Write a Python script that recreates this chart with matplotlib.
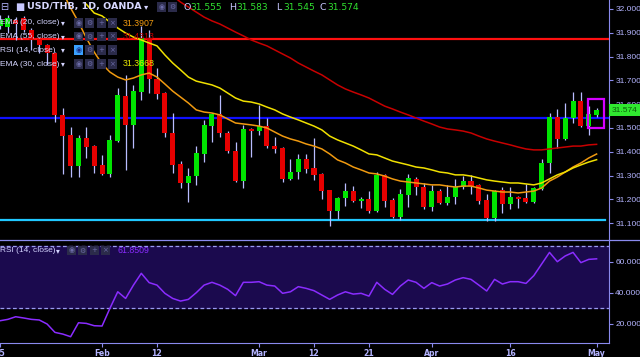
import matplotlib
matplotlib.use("Agg")
import matplotlib.pyplot as plt
from matplotlib.lines import Line2D
from matplotlib.patches import Rectangle
from matplotlib.transforms import blended_transform_factory

W, H = 640, 357

# daily USD/THB bars, 15 Jan 2018 .. 1 May 2018
opens = [31.930, 31.924, 31.955, 31.962, 31.912, 31.874, 31.849, 31.815, 31.555, 31.471,
         31.340, 31.458, 31.424, 31.345, 31.307, 31.445, 31.634, 31.513, 31.651, 31.878,
         31.706, 31.647, 31.479, 31.349, 31.269, 31.298, 31.391, 31.508, 31.559, 31.479,
         31.403, 31.277, 31.496, 31.487, 31.508, 31.424, 31.416, 31.286, 31.315, 31.370,
         31.332, 31.307, 31.239, 31.151, 31.206, 31.235, 31.193, 31.202, 31.151, 31.303,
         31.197, 31.126, 31.218, 31.286, 31.252, 31.168, 31.235, 31.185, 31.210, 31.252,
         31.277, 31.261, 31.197, 31.122, 31.239, 31.181, 31.210, 31.206, 31.189, 31.244,
         31.353, 31.546, 31.454, 31.542, 31.613, 31.508, 31.555]
highs = [31.975, 31.975, 31.965, 31.970, 31.920, 31.880, 31.855, 31.820, 31.584, 31.504,
         31.471, 31.504, 31.429, 31.387, 31.471, 31.668, 31.723, 31.681, 31.930, 31.910,
         31.752, 31.650, 31.563, 31.361, 31.332, 31.424, 31.534, 31.563, 31.639, 31.487,
         31.441, 31.513, 31.500, 31.597, 31.542, 31.462, 31.420, 31.370, 31.391, 31.391,
         31.458, 31.310, 31.240, 31.210, 31.269, 31.256, 31.210, 31.235, 31.315, 31.305,
         31.206, 31.244, 31.307, 31.294, 31.269, 31.261, 31.244, 31.261, 31.286, 31.298,
         31.303, 31.265, 31.223, 31.240, 31.252, 31.252, 31.215, 31.265, 31.252, 31.370,
         31.563, 31.580, 31.605, 31.651, 31.651, 31.592, 31.583]
lows = [31.915, 31.899, 31.870, 31.905, 31.828, 31.815, 31.765, 31.525, 31.307, 31.294,
        31.294, 31.374, 31.311, 31.303, 31.294, 31.440, 31.324, 31.416, 31.618, 31.647,
        31.622, 31.462, 31.311, 31.248, 31.189, 31.261, 31.357, 31.441, 31.462, 31.395,
        31.273, 31.248, 31.378, 31.471, 31.416, 31.395, 31.273, 31.280, 31.286, 31.311,
        31.282, 31.202, 31.088, 31.118, 31.172, 31.189, 31.164, 31.143, 31.145, 31.168,
        31.120, 31.113, 31.168, 31.218, 31.160, 31.151, 31.181, 31.176, 31.181, 31.244,
        31.223, 31.181, 31.109, 31.109, 31.143, 31.160, 31.164, 31.185, 31.185, 31.240,
        31.311, 31.416, 31.450, 31.521, 31.504, 31.471, 31.545]
closes = [31.955, 31.962, 31.935, 31.912, 31.870, 31.849, 31.815, 31.555, 31.466, 31.340,
          31.458, 31.420, 31.340, 31.307, 31.450, 31.639, 31.513, 31.655, 31.878, 31.706,
          31.643, 31.479, 31.345, 31.269, 31.298, 31.395, 31.513, 31.559, 31.479, 31.403,
          31.277, 31.496, 31.487, 31.508, 31.424, 31.412, 31.286, 31.315, 31.370, 31.328,
          31.303, 31.235, 31.151, 31.206, 31.235, 31.193, 31.202, 31.151, 31.303, 31.193,
          31.126, 31.223, 31.290, 31.252, 31.168, 31.235, 31.185, 31.210, 31.252, 31.277,
          31.256, 31.193, 31.122, 31.235, 31.181, 31.210, 31.202, 31.189, 31.248, 31.353,
          31.546, 31.454, 31.542, 31.613, 31.508, 31.559, 31.574]

# EMAs (first value = bar index given by *_start)
ema20_start = 8
ema20 = [32.070, 32.004, 31.945, 31.878, 31.819, 31.769, 31.735, 31.714, 31.702, 31.710,
         31.723, 31.731, 31.714, 31.685, 31.655, 31.630, 31.605, 31.576, 31.567, 31.563,
         31.555, 31.538, 31.521, 31.517, 31.513, 31.508, 31.500, 31.483, 31.466, 31.454,
         31.445, 31.433, 31.424, 31.412, 31.391, 31.366, 31.353, 31.336, 31.324, 31.311,
         31.307, 31.298, 31.286, 31.277, 31.273, 31.269, 31.265, 31.261, 31.261, 31.256,
         31.252, 31.256, 31.256, 31.248, 31.239, 31.235, 31.231, 31.231, 31.227, 31.231,
         31.235, 31.248, 31.277, 31.294, 31.315, 31.336, 31.353, 31.374, 31.3907]
ema30_start = 11
ema30 = [32.020, 31.983, 31.971, 31.945, 31.920, 31.899, 31.882, 31.870, 31.857, 31.845,
         31.807, 31.773, 31.744, 31.714, 31.697, 31.689, 31.681, 31.668, 31.647, 31.626,
         31.613, 31.609, 31.601, 31.588, 31.576, 31.559, 31.546, 31.534, 31.521, 31.508,
         31.492, 31.466, 31.450, 31.437, 31.424, 31.408, 31.391, 31.387, 31.374, 31.361,
         31.353, 31.345, 31.336, 31.332, 31.324, 31.315, 31.311, 31.303, 31.303, 31.298,
         31.290, 31.282, 31.277, 31.273, 31.269, 31.269, 31.265, 31.261, 31.269, 31.286,
         31.303, 31.315, 31.332, 31.345, 31.357, 31.3668]
ema55_start = 22
ema55 = [32.055, 32.029, 32.008, 31.987, 31.966, 31.950, 31.937, 31.920, 31.903, 31.887,
         31.870, 31.857, 31.845, 31.828, 31.811, 31.794, 31.773, 31.756, 31.739, 31.723,
         31.702, 31.681, 31.664, 31.651, 31.639, 31.626, 31.609, 31.592, 31.580, 31.567,
         31.555, 31.542, 31.529, 31.517, 31.504, 31.496, 31.492, 31.487, 31.479, 31.466,
         31.454, 31.445, 31.437, 31.429, 31.420, 31.412, 31.408, 31.408, 31.412, 31.416,
         31.420, 31.424, 31.424, 31.429, 31.4313]
rsi = [21.9, 22.8, 24.5, 23.7, 22.8, 22.4, 19.8, 14.4, 13.3, 11.6,
       20.6, 20.2, 18.7, 18.5, 29.9, 40.6, 36.3, 44.9, 52.5, 46.5,
       44.9, 39.6, 36.3, 34.6, 35.7, 40.0, 44.9, 46.7, 44.9, 42.2,
       38.1, 46.7, 46.7, 47.1, 44.9, 44.3, 39.6, 40.6, 43.9, 42.8,
       41.3, 38.5, 35.7, 38.5, 40.6, 39.1, 39.6, 37.8, 46.7, 42.2,
       38.9, 44.3, 48.2, 46.7, 42.8, 46.5, 44.3, 45.6, 48.2, 49.7,
       48.6, 44.9, 41.1, 48.6, 45.6, 47.1, 47.1, 46.0, 51.0, 58.5,
       66.0, 60.0, 63.7, 66.0, 59.4, 61.5, 61.8509]

resistance = 31.876
pivot = 31.543
support = 31.113

tick_pos = [0, 13, 20, 33, 40, 47, 55, 65, 76]
tick_lab = ["15", "Feb", "12", "Mar", "12", "21", "Apr", "16", "May"]
price_ticks = [31.1, 31.2, 31.3, 31.4, 31.5, 31.6, 31.7, 31.8, 31.9, 32.0]
rsi_ticks = [20, 40, 60]

BG = "black"
AXC = "#8a8aee"
TXT = "#b4b4ff"
LEG = "#d4d4ff"
UP = "#00e400"
DN = "#e60000"
WICK = "#b8bcff"
fam = ["Liberation Sans", "DejaVu Sans"]


def fx(p):
    return p / W


def fy(p):
    return 1 - p / H


fig = plt.figure(figsize=(W / 100, H / 100), dpi=100, facecolor=BG)
ax = fig.add_axes([0, fy(239), fx(609), 239 / H])
rx = fig.add_axes([0, fy(343), fx(609), 103 / H], sharex=ax)

for a in (ax, rx):
    a.set_facecolor(BG)
    for s in ("top", "left", "bottom"):
        a.spines[s].set_visible(False)
    a.spines["right"].set_color(AXC)
    a.yaxis.tick_right()
    a.tick_params(axis="y", colors=AXC, labelcolor=TXT, length=3, width=0.8,
                  labelsize=6, pad=1.5)
rx.spines["bottom"].set_visible(True)
rx.spines["bottom"].set_color(AXC)

n = len(closes)
xs = list(range(n))

# horizontal levels
ax.axhline(resistance, color="#ff1010", lw=1.6, zorder=1)
ax.axhline(pivot, color="#1010ff", lw=1.6, zorder=1)
ax.plot([0, n + 0.05], [support, support], color="#20c8ff", lw=1.6, zorder=1)

# candles
ax.vlines(xs, lows, highs, color=WICK, lw=0.9, zorder=2)
bottoms = [min(o, c) for o, c in zip(opens, closes)]
heights = [max(abs(c - o), 0.006) for o, c in zip(opens, closes)]
cols = [UP if c >= o else DN for o, c in zip(opens, closes)]
ax.bar(xs, heights, 0.64, bottom=bottoms, color=cols, linewidth=0, zorder=3)

# moving averages
ax.plot(range(ema55_start, n), ema55, color="#c80000", lw=1.1, zorder=4)
ax.plot(range(ema20_start, n), ema20, color="#f09a10", lw=1.1, zorder=4)
ax.plot(range(ema30_start, n), ema30, color="#f0e000", lw=1.1, zorder=4)

# highlight box on the last bar
ax.add_patch(Rectangle((n - 1 - 1.13, 31.500), 2.11, 0.122, fill=False,
                       ec="#d400ff", lw=1.6, zorder=5))

ax.set_xlim(0, 609 / 7.85)
ax.set_ylim(31.0336, 32.0378)
ax.set_yticks(price_ticks)
ax.set_yticklabels([f"{v:.3f}" for v in price_ticks], family=fam)
ax.tick_params(axis="x", bottom=False, labelbottom=False)

# last price tag
tr = blended_transform_factory(ax.transAxes, ax.transData)
ax.text(1.004, closes[-1], f"{closes[-1]:.3f}", transform=tr, va="center", ha="left",
        fontsize=6, family=fam, color="#0b5c0b", clip_on=False, zorder=6,
        bbox=dict(boxstyle="square,pad=0.3", fc="#30e830", ec="none"))

# RSI panel
rx.axhspan(30, 70, color="#1b0a4e", zorder=0)
for lv in (30, 70):
    rx.axhline(lv, color="#9a9af0", lw=0.9, ls=(0, (3, 2)), zorder=1)
rx.plot(xs, rsi, color="#8a2cff", lw=1.1, zorder=2)
rx.set_ylim(7.55, 74.0)
rx.set_yticks(rsi_ticks)
rx.set_yticklabels([f"{v:.4f}" for v in rsi_ticks], family=fam)
rx.set_xticks(tick_pos)
rx.set_xticklabels(tick_lab, fontweight="bold")
rx.tick_params(axis="x", colors=AXC, labelcolor=TXT, length=3, width=0.8,
               labelsize=5.6, pad=1.5)

# separator across the full width
fig.add_artist(Line2D([0, 1], [fy(239.5), fy(239.5)], color=AXC, lw=0.9))


# legend header
def t(x, y, s, c=LEG, size=5.8, **kw):
    fig.text(fx(x), fy(y), s, color=c, fontsize=size, va="center", ha="left", **kw)


def icons(x0, y, syms, first=None):
    for k, sym in enumerate(syms):
        x = x0 + k * 11.3
        fc = first if (first and k == 0) else "#2b2b4a"
        fig.add_artist(Rectangle((fx(x), fy(y + 4.5)), fx(9), 9 / H,
                                 transform=fig.transFigure, fc=fc, ec="none"))
        sc = "#1a2a80" if (first and k == 0) else "#6c6ca8"
        fig.text(fx(x + 4.5), fy(y), sym, color=sc, fontsize=5, ha="center", va="center")


t(0, 7, "⊟", TXT, 7)
t(15, 7, "■", "#c8c8ff", 7)
t(27, 7, "USD/THB, 1D, OANDA", "#d8d8ff", 6.8, fontweight="bold")
t(144, 7, "▾", LEG, 6)
icons(157, 7, ["◉", "⚙"])
ohlc = [("O", opens[-1], 183), ("H", highs[-1], 229), ("L", lows[-1], 276), ("C", closes[-1], 320)]
for letter, val, x in ohlc:
    t(x, 7, letter, "#c8c8ff", 6.8)
    t(x + 7.5, 7, f"{val:.3f}", "#30e030", 6.6)

rows = [("EMA (20, close)", f"{ema20[-1]:.4f}", "#f09a10", 23, None),
        ("EMA (55, close)", f"{ema55[-1]:.4f}", "#c00000", 36.5, None),
        ("RSI (14, close)", "", None, 50, "#3aa0ff"),
        ("EMA (30, close)", f"{ema30[-1]:.4f}", "#e8e800", 64, None)]
for lab, val, vc, y, hl in rows:
    t(0, y, lab, LEG, 6, family=fam)
    t(61, y, "▾", LEG, 5.5)
    icons(74, y, ["◉", "⚙", "+", "×"], first=hl)
    if val:
        t(123, y, val, vc, 6.3, family=fam)

t(0, 250.5, "RSI (14, close)", LEG, 6, family=fam)
t(56, 250.5, "▾", LEG, 5.5)
icons(67, 250.5, ["◉", "⚙", "+", "×"])
t(118, 250.5, f"{rsi[-1]:.4f}", "#8a2cff", 6.3, family=fam)

fig.savefig("out.png", dpi=100, facecolor=BG)
